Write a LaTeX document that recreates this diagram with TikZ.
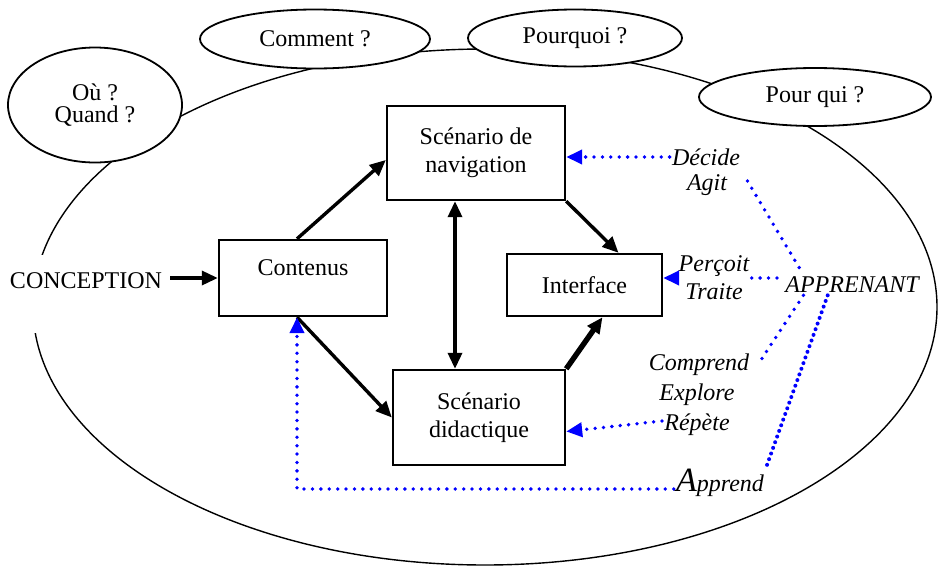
\documentclass[tikz,border=0pt]{standalone}
\usepackage{fontspec}
\setmainfont{Liberation Serif}
\usetikzlibrary{arrows.meta, shapes.geometric}

\begin{document}
\begin{tikzpicture}[
    x=0.5pt, y=-0.5pt,
    font=\fontsize{12}{14}\selectfont,
    >={Triangle[length=8pt,width=7pt]},
    bubble/.style={draw, ellipse, fill=white, line width=0.9pt,
                   inner sep=0pt, align=center},
    blk/.style={draw, line width=1.2pt, inner sep=0pt, align=center},
    lab/.style={inner sep=1pt, font=\fontsize{12}{14}\selectfont\itshape,
                align=center},
    flow/.style={->, line width=1.7pt},
    cue/.style={blue, line width=1.9pt, dash pattern=on 0pt off 4.2pt,
                line cap=round},
    cuearr/.style={cue, -{Triangle[length=8pt,width=7pt]}},
  ]
  \useasboundingbox (0,0) rectangle (938,568);

  %% ---- outer frame and the questions on it ---------------------------
  \draw[line width=0.7pt] (485,307) ellipse [x radius=226pt, y radius=129pt];
  \node[bubble, minimum width=87pt, minimum height=57.5pt] (ou) at (95,105)
    {Où ?\\[-3pt]Quand ?};
  \node[bubble, minimum width=115pt, minimum height=29.5pt] (comment) at (315,39)
    {Comment ?};
  \node[bubble, minimum width=107pt, minimum height=28.5pt] (pourquoi) at (575,38)
    {Pourquoi ?};
  \node[bubble, minimum width=116pt, minimum height=29pt] (pourqui) at (815,97)
    {Pour qui ?};
  \node[fill=white, inner xsep=4pt, inner ysep=0pt, minimum height=39pt,
        text depth=13pt] (conc) at (86,294) {CONCEPTION};

  %% ---- main blocks ----------------------------------------------------
  \node[blk, minimum width=89pt, minimum height=47pt] (nav) at (476,153)
    {Scénario de\\navigation};
  \node[blk, minimum width=84pt, minimum height=38pt, text depth=10pt]
    (cont) at (303,278) {Contenus};
  \node[blk, minimum width=77.5pt, minimum height=31pt] (intf) at (584.5,285)
    {Interface};
  \node[blk, minimum width=86pt, minimum height=47.5pt] (did) at (479,417.5)
    {Scénario\\didactique};

  \draw[flow] (conc.east |- cont.west) -- (cont.west);
  \draw[flow] ([xshift=-3pt]cont.north) -- ([yshift=-3.5pt]nav.west);
  \draw[flow] ([xshift=-3pt]cont.south) -- (did.west);
  \draw[flow, <->] ([xshift=-10.5pt]nav.south) -- ([xshift=-12pt]did.north);
  \draw[flow] (nav.south east) -- ([xshift=17pt]intf.north);
  \draw[flow, line width=2.7pt] (did.north east) -- ([xshift=9pt]intf.south);

  %% ---- the learner and what he does ----------------------------------
  \node[lab] (decide)   at (706,157) {Décide};
  \node[lab] (agit)     at (707,185) {Agit};
  \node[lab] (percoit)  at (714,278) {Perçoit\\Traite};
  \node[lab] (appr)     at (852,285) {APPRENANT};
  \node[lab] (comprend) at (699,365) {Comprend};
  \node[lab] (explore)  at (697,395) {Explore};
  \node[lab] (repete)   at (697,425) {Répète};
  \node[lab] (apprend)  at (720,483) {{\fontsize{17}{17}\selectfont A}pprend};

  \draw[cuearr] (decide.west) -- (decide.west -| nav.east);
  \draw[cue] ([xshift=9pt,yshift=2pt]agit.east) -- (appr.168);
  \draw[cuearr] (percoit.west) -- (percoit.west -| intf.east);
  \draw[cue] (percoit.east) -- (percoit.east -| appr.west);
  \draw[cue] (appr.192) -- ([xshift=3pt]comprend.east);
  \draw[cue, dash pattern=on 0pt off 3pt, line width=2pt]
    (appr.203) -- (apprend.north east);
  \draw[cuearr] ([yshift=2pt]repete.west) -- ([yshift=-7pt]did.east);
  \draw[cuearr] ([yshift=-3pt]apprend.west) -| ([xshift=-3pt]cont.south);

\end{tikzpicture}
\end{document}
